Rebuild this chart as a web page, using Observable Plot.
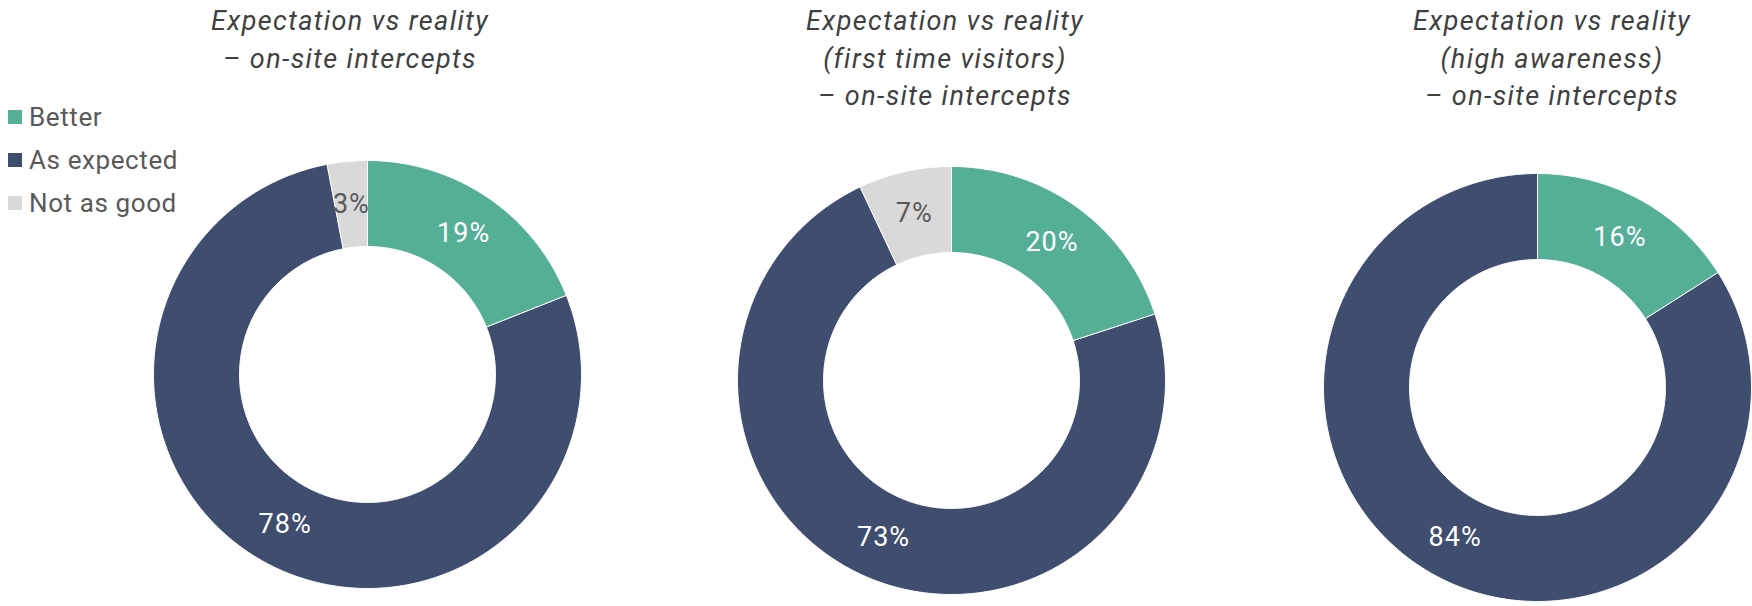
<!DOCTYPE html>
<html>
<head>
<meta charset="utf-8">
<script src="https://cdn.jsdelivr.net/npm/d3@7"></script>
<script src="https://cdn.jsdelivr.net/npm/@observablehq/plot@0.6"></script>
<style>
  html, body { margin: 0; padding: 0; background: #fff; }
  #wrap { position: relative; width: 1752px; height: 606px; overflow: hidden; font-family: Roboto, "Liberation Sans", sans-serif; }
  .title { position: absolute; width: 440px; text-align: center; font-style: italic; color: #404040; font-size: 27px; letter-spacing: 1.4px; line-height: 37.5px; }
  #legend { position: absolute; left: 8px; top: 95px; color: #595959; font-size: 26px; letter-spacing: 0.6px; }
  .item { display: flex; align-items: center; height: 43px; }
  .sw { width: 14px; height: 14px; margin-right: 7px; }
  #chart { position: absolute; left: 0; top: 0; }
</style>
</head>
<body>
<div id="wrap"></div>
<script>
// ---- data ----
const groups = ["Better", "As expected", "Not as good"];
const chartTitles = [
  ["Expectation vs reality", "– on-site intercepts"],
  ["Expectation vs reality", "(first time visitors)", "– on-site intercepts"],
  ["Expectation vs reality", "(high awareness)", "– on-site intercepts"]
];
const better     = [19, 20, 16];
const asExpected = [78, 73, 84];
const notAsGood  = [3, 7, 0];

// ---- style / layout ----
const colors = ["#55AF96", "#3F4D6F", "#D9D9D9"];
const W = 1752, H = 606;
const centerX = [367, 951, 1537];
const centerY = [374, 380, 387];
const titleX = [350, 945, 1552];
const titleTop = [3, 3, 3];
const outerR = 214, innerR = 128;

const wrap = document.getElementById("wrap");

// titles
chartTitles.forEach((lines, i) => {
  const d = document.createElement("div");
  d.className = "title";
  d.style.left = (titleX[i] - 220) + "px";
  d.style.top = titleTop[i] + "px";
  d.innerHTML = lines.map(l => `<div>${l}</div>`).join("");
  wrap.appendChild(d);
});

// legend
const lg = document.createElement("div");
lg.id = "legend";
groups.forEach((g, j) => {
  const it = document.createElement("div");
  it.className = "item";
  it.innerHTML = `<span class="sw" style="background:${colors[j]}"></span><span>${g}</span>`;
  lg.appendChild(it);
});

// build arc polygons from values
const series = [better, asExpected, notAsGood];
const pts = [];
const labels = [];
for (let i = 0; i < 3; i++) {
  let start = 0;
  for (let j = 0; j < groups.length; j++) {
    const v = series[j][i];
    if (v > 0) {
      const a0 = start / 100 * 2 * Math.PI, a1 = (start + v) / 100 * 2 * Math.PI;
      const n = Math.max(4, Math.ceil(v * 4));
      const id = `c${i}-${j}`;
      for (let k = 0; k <= n; k++) {
        const a = a0 + (a1 - a0) * k / n;
        pts.push({id, group: groups[j], x: centerX[i] + outerR * Math.sin(a), y: centerY[i] - outerR * Math.cos(a)});
      }
      for (let k = n; k >= 0; k--) {
        const a = a0 + (a1 - a0) * k / n;
        pts.push({id, group: groups[j], x: centerX[i] + innerR * Math.sin(a), y: centerY[i] - innerR * Math.cos(a)});
      }
      const am = (a0 + a1) / 2, rm = (outerR + innerR) / 2;
      labels.push({group: groups[j], text: v + "%", x: centerX[i] + rm * Math.sin(am), y: centerY[i] - rm * Math.cos(am)});
    }
    start += v;
  }
}

const labelStyle = {x: "x", y: "y", text: "text", fontSize: 27, fontFamily: "Roboto, sans-serif", style: "letter-spacing: 1px"};
const chart = Plot.plot({
  width: W, height: H, margin: 0,
  x: {domain: [0, W], range: [0, W], axis: null},
  y: {domain: [0, H], range: [0, H], axis: null},
  color: {domain: groups, range: colors},
  style: {background: "transparent"},
  marks: [
    Plot.line(pts, {x: "x", y: "y", z: "id", fill: "group", stroke: "white", strokeWidth: 1, curve: "linear-closed"}),
    Plot.text(labels, {...labelStyle, filter: d => d.group !== "Not as good", fill: "white"}),
    Plot.text(labels, {...labelStyle, filter: d => d.group === "Not as good", fill: "#595959"})
  ]
});
chart.id = "chart";
chart.querySelectorAll("text").forEach(t => t.style.letterSpacing = "1px");
wrap.appendChild(chart);
wrap.appendChild(lg);
</script>
</body>
</html>
